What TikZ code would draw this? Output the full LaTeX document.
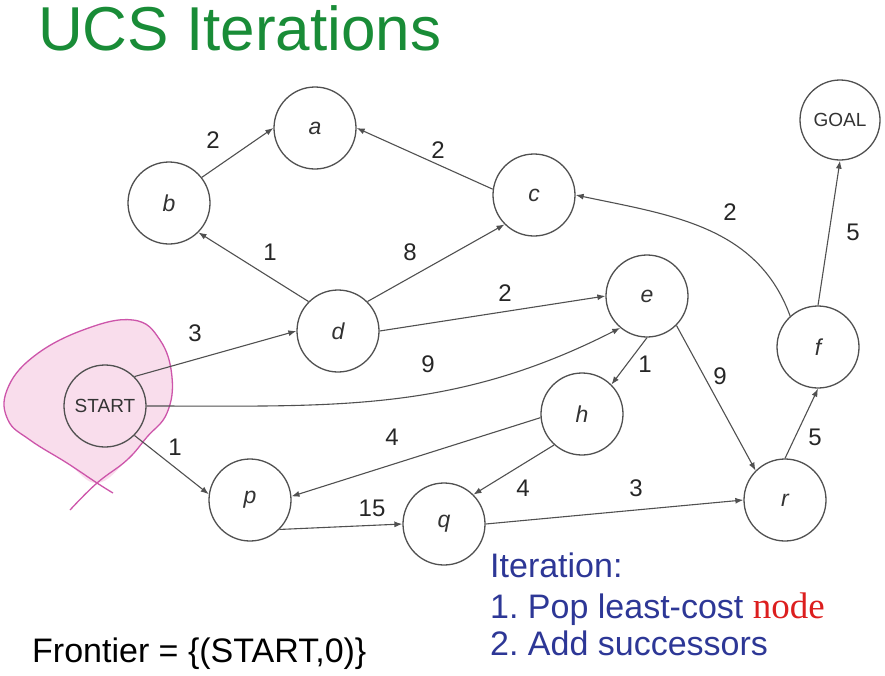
\documentclass[tikz,border=0pt]{standalone}
\usepackage{fontspec}
\setmainfont{Liberation Sans}
\newfontfamily\timesfont{Liberation Serif}
\usetikzlibrary{arrows.meta}
\definecolor{titlecol}{RGB}{25,140,55}
\definecolor{itercol} {RGB}{45,55,150}
\definecolor{rednode} {RGB}{220,30,30}
\definecolor{edgecol} {RGB}{80,80,80}
\definecolor{blobfill}{RGB}{249,221,236}
\definecolor{blobline}{RGB}{205,85,170}
\frenchspacing

\begin{document}
\begin{tikzpicture}[
  x=1pt,y=1pt,
  state/.style={circle,draw=edgecol,line width=1.3pt,
               minimum size=82pt,inner sep=0pt,text=black!80,
               font=\fontsize{23}{25}\selectfont\itshape},
  term/.style={state,font=\fontsize{19}{21}\selectfont},
  arr/.style={-{Latex[length=8pt,width=6pt]},line width=1.1pt,edgecol},
  wt/.style={font=\fontsize{24}{26}\selectfont,text=black!85,inner sep=0pt},
  txt/.style={font=\fontsize{34}{36}\selectfont,inner sep=0pt,anchor=base west},
  >=Latex
]
\useasboundingbox (0,0) rectangle (885,-675);
% frontier blob round START
\fill[blobfill] plot[smooth cycle,tension=0.7] coordinates {
  (97,-483) (67,-463) (30,-440) (8,-420) (7,-390) (33,-357) (83,-330)
  (133,-320) (160,-340) (172,-377) (167,-413) (147,-437) (127,-460)};
\draw[blobline,line width=1.3pt] plot[smooth,tension=0.7] coordinates {
  (113,-493) (97,-483) (67,-463) (30,-440) (8,-420) (7,-390) (33,-357)
  (83,-330) (133,-320) (160,-340) (172,-377) (167,-413) (147,-437)
  (127,-460) (97,-483) (70,-510)};
% title and texts
\node[txt,font=\fontsize{62}{64}\selectfont,text=titlecol] (title) at (38,-50) {UCS Iterations};
\node[txt] (frontier) at (32,-662) {Frontier = \{(START,0)\}};
\node[txt,text=itercol] (it0) at (490,-577) {Iteration:};
\node[txt,text=itercol] (it1) at (490,-618)
  {1. Pop least-cost {\timesfont\fontsize{37}{39}\selectfont\color{rednode}node}};
\node[txt,text=itercol] (it2) at (490,-655) {2. Add successors};
% states
\node[term,fill=none] (S) at (105,-406) {START};
\node[state] (a) at (315,-128) {a};
\node[state] (b) at (169,-203) {b};
\node[state] (c) at (534,-195) {c};
\node[state] (d) at (338,-331) {d};
\node[state] (e) at (647,-296) {e};
\node[state] (f) at (818,-347) {f};
\node[state] (h) at (582,-414) {h};
\node[state] (p) at (250,-500) {p};
\node[state] (q) at (444,-524) {q};
\node[state] (r) at (785,-500) {r};
\node[term,minimum size=80pt] (G) at (840,-120) {GOAL};
% edges
\draw[arr] (b.38)--(a.west);
\draw[arr] (c.172)--(a.east);
\draw[arr] (d.135)--(b.-45);
\draw[arr] (d.45)--(c.225);
\draw[arr] (d.east)--(e.west);
\draw[arr] (S.45)--(d.west);
\draw[arr] (S.east) to[out=0,in=207] (e.230);
\draw[arr] (S.-45)--(p.172);
\draw[arr] (h.185)--(p.5);
\draw[arr] (h.228)--(q.45);
\draw[arr] (p.-45)--(q.west);
\draw[arr] (q.east)--(r.west);
\draw[arr] (e.south)--(h.45);
\draw[arr] (e.-45)--(r.135);
\draw[arr] (r.north)--(f.south);
\draw[arr] (f.north)--(G.south);
\draw[arr] (f.132) to[out=110,in=-12] (c.east);
% weights
\node[wt] (wba) at (213,-140) {2};
\node[wt] (wca) at (438,-150) {2};
\node[wt] (wdb) at (270,-252) {1};
\node[wt] (wdc) at (410,-252) {8};
\node[wt] (wde) at (505,-293) {2};
\node[wt] (wsd) at (195,-333) {3};
\node[wt] (wse) at (428,-364) {9};
\node[wt] (wsp) at (175,-447) {1};
\node[wt] (whp) at (392,-437) {4};
\node[wt] (wpq) at (372,-508) {15};
\node[wt] (whq) at (523,-488) {4};
\node[wt] (wqr) at (636,-488) {3};
\node[wt] (weh) at (645,-364) {1};
\node[wt] (wer) at (720,-376) {9};
\node[wt] (wfc) at (730,-212) {2};
\node[wt] (wfg) at (853,-232) {5};
\node[wt] (wrf) at (815,-437) {5};
\end{tikzpicture}
\end{document}
